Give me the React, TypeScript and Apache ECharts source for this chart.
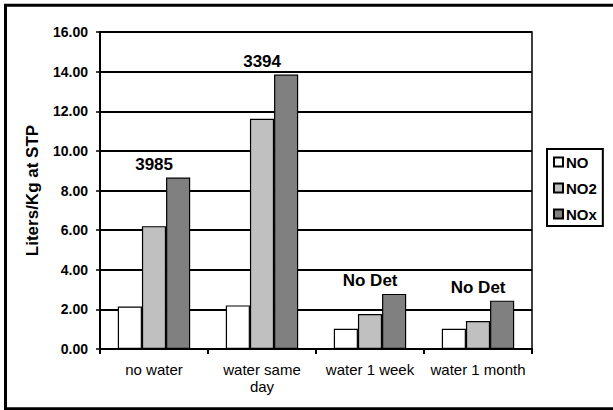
import React, { useEffect, useRef } from "react";
import * as echarts from "echarts";

const categories = ["no water", "water same\nday", "water 1 week", "water 1 month"];
const seriesNames = ["NO", "NO2", "NOx"];
const noValues = [2.14, 2.2, 1.02, 1.02];
const no2Values = [6.2, 11.62, 1.77, 1.41];
const noxValues = [8.65, 13.85, 2.78, 2.44];
const groupLabels = ["3985", "3394", "No Det", "No Det"];
const yTicks = { min: 0, max: 16, interval: 2 };

const FONT = "'Liberation Sans', Arial, sans-serif";

export default function App() {
  const ref = useRef<HTMLDivElement>(null);
  useEffect(() => {
    document.body.style.margin = "0";
    const chart = echarts.init(ref.current!, null, { renderer: "svg" });
    const barBase = {
      type: "bar" as const,
      barGap: "0%",
      barCategoryGap: "33%",
    };
    chart.setOption({
      animation: false,
      backgroundColor: "#ffffff",
      textStyle: { fontFamily: FONT, color: "#000" },
      graphic: [
        {
          type: "rect",
          shape: { x: 5.5, y: 5.3, width: 700, height: 403.5 },
          style: { fill: "none", stroke: "#000", lineWidth: 3 },
          silent: true,
        },
      ],
      grid: {
        left: 100,
        right: 81,
        top: 32,
        bottom: 61,
        show: true,
        borderColor: "#000",
        borderWidth: 1.5,
      },
      legend: {
        orient: "vertical",
        left: 547,
        top: 149,
        data: seriesNames,
        icon: "rect",
        itemWidth: 9,
        itemHeight: 9,
        itemGap: 10,
        padding: [5, 6, 4, 6],
        borderColor: "#000",
        borderWidth: 2,
        textStyle: { fontFamily: FONT, fontSize: 15, fontWeight: "bold", color: "#000", lineHeight: 16, padding: [0, 0, 0, -2] },
      },
      xAxis: {
        type: "category",
        data: categories,
        axisLine: { lineStyle: { color: "#000", width: 2 } },
        axisTick: { show: true, length: 5, lineStyle: { color: "#000", width: 2 } },
        axisLabel: { color: "#000", fontSize: 15, fontFamily: FONT, margin: 12, lineHeight: 17, interval: 0 },
      },
      yAxis: {
        type: "value",
        min: yTicks.min,
        max: yTicks.max,
        interval: yTicks.interval,
        name: "Liters/Kg at STP",
        nameLocation: "middle",
        nameGap: 59,
        nameTextStyle: { fontFamily: FONT, fontSize: 17, fontWeight: "bold", color: "#000" },
        axisLine: { show: true, lineStyle: { color: "#000", width: 2 } },
        axisTick: { show: true, length: 4, lineStyle: { color: "#000", width: 1.5 } },
        axisLabel: {
          color: "#000",
          fontSize: 14,
          fontWeight: "bold",
          fontFamily: FONT,
          margin: 12,
          formatter: (v: number) => v.toFixed(2),
        },
        splitLine: { show: true, lineStyle: { color: "#000", width: 2 } },
      },
      series: [
        {
          ...barBase,
          name: "NO",
          data: noValues,
          itemStyle: { color: "#ffffff", borderColor: "#000", borderWidth: 1.2 },
        },
        {
          ...barBase,
          name: "NO2",
          data: no2Values,
          itemStyle: { color: "#c0c0c0", borderColor: "#000", borderWidth: 1.2 },
        },
        {
          ...barBase,
          name: "NOx",
          data: noxValues,
          itemStyle: { color: "#808080", borderColor: "#000", borderWidth: 1.2 },
          label: {
            show: true,
            position: "top",
            distance: 5,
            offset: [-24, 0],
            fontFamily: FONT,
            fontSize: 17,
            fontWeight: "bold",
            color: "#000",
            formatter: (p: any) => groupLabels[p.dataIndex],
          },
        },
      ],
    });
    return () => chart.dispose();
  }, []);
  return <div ref={ref} style={{ width: 613, height: 410 }} />;
}
